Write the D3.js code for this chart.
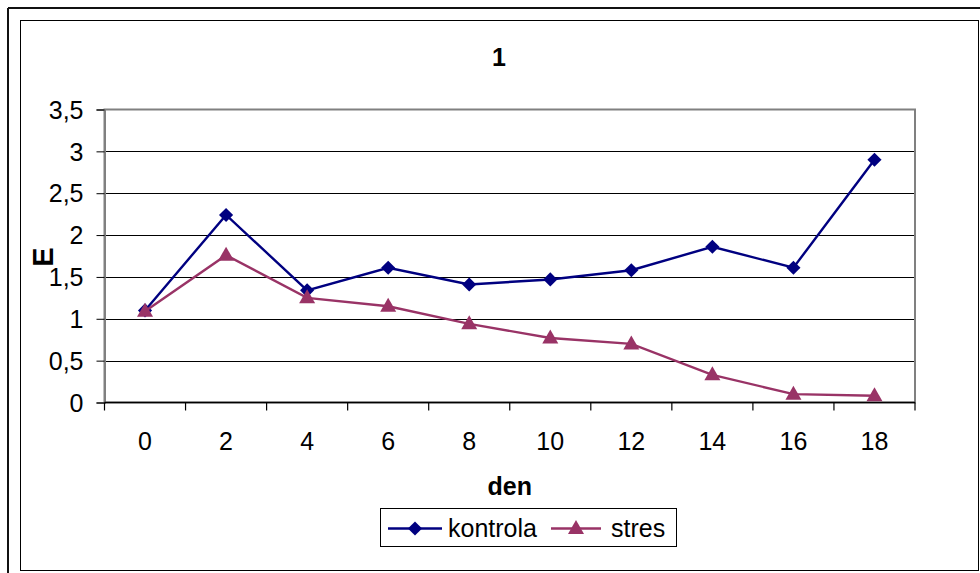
<!DOCTYPE html>
<html><head><meta charset="utf-8">
<script src="https://cdn.jsdelivr.net/npm/d3@7"></script>
<style>
html,body{margin:0;padding:0;background:#fff;}
svg{display:block;font-family:Arial,"Liberation Sans",sans-serif;}
</style></head>
<body>
<svg id="chart" width="980" height="573"></svg>
<script>
const categories = ["0","2","4","6","8","10","12","14","16","18"];
const kontrola = [1.10, 2.24, 1.34, 1.61, 1.41, 1.47, 1.58, 1.86, 1.61, 2.90];
const stres = [1.09, 1.76, 1.25, 1.15, 0.94, 0.77, 0.70, 0.33, 0.10, 0.08];
const yTicks = [0, 0.5, 1, 1.5, 2, 2.5, 3, 3.5];
const seriesNames = ["kontrola", "stres"];
const seriesColors = ["#000080", "#993366"];

const svg = d3.select("#chart");
const fmt = v => String(v).replace(".", ",");

// outer frame
svg.append("line").attr("x1",8).attr("x2",980).attr("y1",8).attr("y2",8).attr("stroke","#111").attr("stroke-width",2);
svg.append("line").attr("x1",8).attr("x2",8).attr("y1",8).attr("y2",573).attr("stroke","#111").attr("stroke-width",2);
// chart area border
svg.append("rect").attr("x",20.5).attr("y",20.5).attr("width",958).attr("height",550).attr("fill","#fff").attr("stroke","#000").attr("stroke-width",1);

const L=104.5, R=915, T=109.5, B=402.5;
const x = d3.scaleBand().domain(categories).range([L,R]).padding(0);
const y = d3.scaleLinear().domain([0,3.5]).range([B,T]);

// gridlines
svg.append("g").selectAll("line").data(yTicks.filter(v=>v>0 && v<3.5)).join("line")
  .attr("x1",L).attr("x2",R).attr("y1",d=>Math.round(y(d))+0.5).attr("y2",d=>Math.round(y(d))+0.5)
  .attr("stroke","#000").attr("stroke-width",1);
// plot area border (gray)
svg.append("rect").attr("x",L).attr("y",T).attr("width",R-L).attr("height",B-T)
  .attr("fill","none").attr("stroke","#808080").attr("stroke-width",2);

// y axis
const yAxis = d3.axisLeft(y).tickValues(yTicks).tickSize(8).tickPadding(13).tickFormat(fmt);
const gy = svg.append("g").attr("transform",`translate(${L},0)`).call(yAxis);
gy.select(".domain").attr("stroke","#808080").attr("stroke-width",2);
gy.selectAll(".tick line").attr("stroke","#000");
gy.selectAll("text").attr("font-size","25px").attr("fill","#000").attr("dy","0.35em")
  .attr("font-family","Arial, 'Liberation Sans', sans-serif");

// x axis (category axis, ticks between categories)
const gx = svg.append("g").attr("transform",`translate(0,${B})`);
gx.append("line").attr("x1",L).attr("x2",R).attr("y1",0).attr("y2",0).attr("stroke","#000").attr("stroke-width",1.5);
const tickPos = categories.map(c=>x(c)).concat([R]);
gx.selectAll("line.tk").data(tickPos).join("line").attr("class","tk")
  .attr("x1",d=>d).attr("x2",d=>d).attr("y1",0).attr("y2",8).attr("stroke","#000").attr("stroke-width",1.2);
gx.selectAll("text").data(categories).join("text")
  .attr("x",d=>x(d)+x.bandwidth()/2).attr("y",47).attr("text-anchor","middle")
  .attr("font-size","25px").attr("fill","#000").text(d=>d);

// title and axis labels
svg.append("text").attr("x",499).attr("y",66).attr("text-anchor","middle").attr("font-size","25px").attr("font-weight","bold").text("1");
svg.append("text").attr("x",(L+R)/2).attr("y",495).attr("text-anchor","middle").attr("font-size","25px").attr("font-weight","bold").text("den");
svg.append("text").attr("transform","translate(53,257) rotate(-90)").attr("text-anchor","middle").attr("font-size","29px").attr("font-weight","bold").text("E");

// series
const cx = i => x(categories[i]) + x.bandwidth()/2;
const line = d3.line().x((d,i)=>cx(i)).y(d=>y(d));
const diamond = d3.symbol().type(d3.symbolSquare).size(100);
const tri = "M0,-8.5L8,5.5L-8,5.5Z";

function drawSeries(data, color, kind){
  svg.append("path").datum(data).attr("d",line).attr("fill","none").attr("stroke",color).attr("stroke-width",2.4);
  const g = svg.append("g");
  g.selectAll("path").data(data).join("path")
    .attr("transform",(d,i)=> kind==="d" ? `translate(${cx(i)},${y(d)}) rotate(45)` : `translate(${cx(i)},${y(d)})`)
    .attr("d", kind==="d" ? diamond() : tri).attr("fill",color);
}
drawSeries(kontrola, seriesColors[0], "d");
drawSeries(stres, seriesColors[1], "t");

// legend
const lg = svg.append("g");
lg.append("rect").attr("x",380.5).attr("y",508.5).attr("width",296).attr("height",38).attr("fill","#fff").attr("stroke","#000").attr("stroke-width",1);
const legendItems = [
  {name:seriesNames[0], color:seriesColors[0], kind:"d", x0:388, x1:442, tx:448},
  {name:seriesNames[1], color:seriesColors[1], kind:"t", x0:551, x1:601, tx:611}
];
legendItems.forEach(it=>{
  lg.append("line").attr("x1",it.x0).attr("x2",it.x1).attr("y1",528.5).attr("y2",528.5).attr("stroke",it.color).attr("stroke-width",2.4);
  const mx=(it.x0+it.x1)/2;
  lg.append("path").attr("transform", it.kind==="d" ? `translate(${mx},528.5) rotate(45)` : `translate(${mx},528.5)`)
    .attr("d", it.kind==="d" ? diamond() : tri).attr("fill",it.color);
  lg.append("text").attr("x",it.tx).attr("y",537).attr("font-size","25px").attr("fill","#000").text(it.name);
});
</script>
</body></html>
